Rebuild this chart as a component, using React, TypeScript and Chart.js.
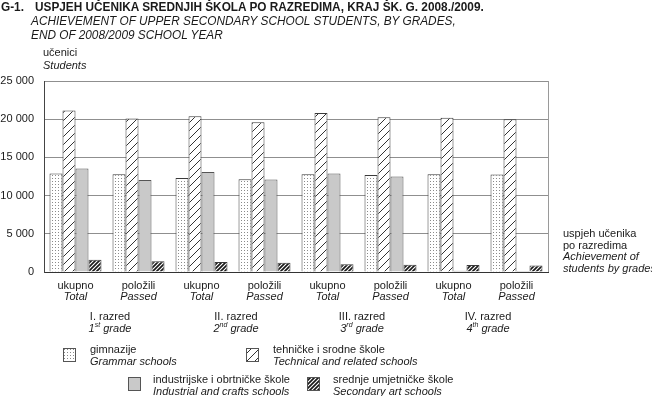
import React, { useEffect, useRef } from "react";
import { Chart, registerables } from "chart.js";
Chart.register(...registerables);

const topLabels = ["ukupno", "položili", "ukupno", "položili", "ukupno", "položili", "ukupno", "položili"];
const bottomLabels = ["Total", "Passed", "Total", "Passed", "Total", "Passed", "Total", "Passed"];
const gradeLabels = ["I. razred", "II. razred", "III. razred", "IV. razred"];
const gradeNums = ["1", "2", "3", "4"];
const gradeSups = ["st", "nd", "rd", "th"];

const grammar = [12900, 12800, 12300, 12150, 12800, 12700, 12800, 12750];
const technical = [21150, 20100, 20400, 19600, 20800, 20250, 20200, 20000];
const industrial = [13550, 12050, 13100, 12100, 12900, 12500, 150, 120];
const art = [1600, 1400, 1300, 1200, 1000, 950, 900, 850];

const yMax = 25000;
const yStep = 5000;

const FONT = "'Liberation Sans', Arial, sans-serif";

function makePattern(kind: string): CanvasPattern | string {
  const c = document.createElement("canvas");
  const ctx = c.getContext("2d")!;
  if (kind === "dots") {
    c.width = 3; c.height = 3;
    ctx.fillStyle = "#ffffff"; ctx.fillRect(0, 0, 3, 3);
    ctx.fillStyle = "#8a8a8a"; ctx.fillRect(1, 1, 1, 1);
  } else if (kind === "hatch") {
    c.width = 8; c.height = 8;
    ctx.fillStyle = "#ffffff"; ctx.fillRect(0, 0, 8, 8);
    ctx.strokeStyle = "#333333"; ctx.lineWidth = 1;
    ctx.beginPath();
    ctx.moveTo(-1, 9); ctx.lineTo(9, -1);
    ctx.moveTo(-1, 1); ctx.lineTo(1, -1);
    ctx.moveTo(7, 9); ctx.lineTo(9, 7);
    ctx.stroke();
  } else if (kind === "dense") {
    c.width = 4; c.height = 4;
    ctx.fillStyle = "#ffffff"; ctx.fillRect(0, 0, 4, 4);
    ctx.strokeStyle = "#1a1a1a"; ctx.lineWidth = 1.7;
    ctx.beginPath();
    ctx.moveTo(-1, 5); ctx.lineTo(5, -1);
    ctx.moveTo(-1, 1); ctx.lineTo(1, -1);
    ctx.moveTo(3, 5); ctx.lineTo(5, 3);
    ctx.stroke();
  }
  return ctx.createPattern(c, "repeat")!;
}

export default function App() {
  const ref = useRef<HTMLCanvasElement>(null);
  useEffect(() => {
    const canvas = ref.current!;
    const pDots = makePattern("dots");
    const pHatch = makePattern("hatch");
    const pDense = makePattern("dense");
    const gray = "#c9c9c9";

    const fills = [pDots, pHatch, gray, pDense];
    const legendItems = [
      { x: 63, y: 348, fill: pDots },
      { x: 246, y: 348, fill: pHatch },
      { x: 128, y: 377, fill: gray },
      { x: 307, y: 377, fill: pDense },
    ];

    const labelsPlugin = {
      id: "customLabels",
      afterDraw(chart: any) {
        const ctx = chart.ctx as CanvasRenderingContext2D;
        const xs = chart.scales.x;
        const area = chart.chartArea;
        ctx.save();
        ctx.strokeStyle = "#9a9a9a";
        ctx.lineWidth = 1;
        ctx.beginPath();
        ctx.moveTo(Math.round(area.right) + 0.5, area.top);
        ctx.lineTo(Math.round(area.right) + 0.5, area.bottom);
        ctx.stroke();

        ctx.fillStyle = "#1a1a1a";
        ctx.textAlign = "center";
        ctx.textBaseline = "middle";
        for (let i = 0; i < topLabels.length; i++) {
          const x = xs.getPixelForValue(i);
          ctx.font = `11px ${FONT}`;
          ctx.fillText(topLabels[i], x, 285.5);
          ctx.font = `italic 11px ${FONT}`;
          ctx.fillText(bottomLabels[i], x, 297);
        }
        for (let g = 0; g < gradeLabels.length; g++) {
          const x = (xs.getPixelForValue(2 * g) + xs.getPixelForValue(2 * g + 1)) / 2 + 3;
          ctx.font = `11px ${FONT}`;
          ctx.textAlign = "center";
          ctx.fillText(gradeLabels[g], x, 317);
          ctx.font = `italic 11px ${FONT}`;
          const num = gradeNums[g];
          const rest = " grade";
          const wNum = ctx.measureText(num).width;
          const wRest = ctx.measureText(rest).width;
          ctx.font = `italic 7px ${FONT}`;
          const wSup = ctx.measureText(gradeSups[g]).width;
          const total = wNum + wSup + wRest;
          let sx = x - total / 2;
          ctx.textAlign = "left";
          ctx.font = `italic 11px ${FONT}`;
          ctx.fillText(num, sx, 328.5);
          sx += wNum;
          ctx.font = `italic 7px ${FONT}`;
          ctx.fillText(gradeSups[g], sx, 325.5);
          sx += wSup;
          ctx.font = `italic 11px ${FONT}`;
          ctx.fillText(rest, sx, 328.5);
          ctx.textAlign = "center";
        }
        for (const it of legendItems) {
          ctx.fillStyle = it.fill as any;
          ctx.fillRect(it.x, it.y, 12, 13);
          ctx.strokeStyle = "#555555";
          ctx.lineWidth = 1;
          ctx.strokeRect(it.x + 0.5, it.y + 0.5, 12, 13);
        }
        ctx.restore();
      },
    };

    const mk = (label: string, data: number[], idx: number) => ({
      label,
      data,
      backgroundColor: fills[idx] as any,
      borderColor: idx === 2 ? "#555555" : "#3a3a3a",
      borderWidth: 1,
      barPercentage: 1,
      categoryPercentage: 0.825,
    });

    const chart = new Chart(canvas, {
      type: "bar",
      data: {
        labels: topLabels,
        datasets: [
          mk("gimnazije", grammar, 0),
          mk("tehničke i srodne škole", technical, 1),
          mk("industrijske i obrtničke škole", industrial, 2),
          mk("srednje umjetničke škole", art, 3),
        ],
      },
      options: {
        responsive: false,
        animation: false,
        events: [],
        layout: { padding: { top: 81, right: 104, bottom: 124, left: 0 } },
        plugins: { legend: { display: false }, tooltip: { enabled: false }, title: { display: false } },
        scales: {
          x: {
            ticks: { display: false },
            grid: { display: false, drawTicks: false },
            border: { display: true, color: "#333333", width: 1 },
            afterFit(scale: any) { scale.height = 0; },
          },
          y: {
            min: 0,
            max: yMax,
            ticks: {
              stepSize: yStep,
              padding: 10,
              color: "#1a1a1a",
              font: { family: FONT, size: 11 },
              callback: (v: any) => {
                const n = Number(v);
                if (n === 0) return "0";
                const s = String(n);
                return s.slice(0, s.length - 3) + " " + s.slice(-3);
              },
            },
            grid: { color: "#8f8f8f", lineWidth: 1, drawTicks: false },
            border: { display: true, color: "#444444", width: 1 },
            afterFit(scale: any) { scale.width = 44; },
          },
        },
      },
      plugins: [labelsPlugin],
    });
    return () => chart.destroy();
  }, []);

  const txt: React.CSSProperties = {
    position: "absolute",
    fontFamily: FONT,
    color: "#1a1a1a",
    whiteSpace: "nowrap",
    margin: 0,
  };
  const squeeze: React.CSSProperties = { transform: "scaleX(0.945)", transformOrigin: "left center" };

  return (
    <div style={{ position: "absolute", left: 0, top: 0, width: 652, height: 396, background: "#fff", overflow: "hidden" }}>
      <canvas ref={ref} width={652} height={396} style={{ position: "absolute", left: 0, top: 0, width: 652, height: 396 }} />
      <div style={{ ...txt, ...squeeze, left: 1, top: 0, fontSize: 12.5, lineHeight: "14px", fontWeight: "bold" }}>G-1.</div>
      <div style={{ ...txt, ...squeeze, left: 35, top: 0, fontSize: 12.5, lineHeight: "14px", fontWeight: "bold" }}>
        USPJEH UČENIKA SREDNJIH ŠKOLA PO RAZREDIMA, KRAJ ŠK. G. 2008./2009.
      </div>
      <div style={{ ...txt, ...squeeze, left: 31, top: 14, fontSize: 12.5, lineHeight: "14px", fontStyle: "italic" }}>
        <div>ACHIEVEMENT OF UPPER SECONDARY SCHOOL STUDENTS, BY GRADES,</div>
        <div>END OF 2008/2009 SCHOOL YEAR</div>
      </div>
      <div style={{ ...txt, left: 43, top: 46, fontSize: 11, lineHeight: "13px" }}>
        <div>učenici</div>
        <div style={{ fontStyle: "italic" }}>Students</div>
      </div>
      <div style={{ ...txt, left: 563, top: 228, fontSize: 11, lineHeight: "11.6px" }}>
        <div>uspjeh učenika</div>
        <div>po razredima</div>
        <div style={{ fontStyle: "italic" }}>Achievement of</div>
        <div style={{ fontStyle: "italic" }}>students by grades</div>
      </div>
      <div style={{ ...txt, left: 90, top: 343, fontSize: 11, lineHeight: "12px" }}>
        <div>gimnazije</div>
        <div style={{ fontStyle: "italic" }}>Grammar schools</div>
      </div>
      <div style={{ ...txt, left: 273, top: 343, fontSize: 11, lineHeight: "12px" }}>
        <div>tehničke i srodne škole</div>
        <div style={{ fontStyle: "italic" }}>Technical and related schools</div>
      </div>
      <div style={{ ...txt, left: 153, top: 373, fontSize: 11, lineHeight: "12px" }}>
        <div>industrijske i obrtničke škole</div>
        <div style={{ fontStyle: "italic" }}>Industrial and crafts schools</div>
      </div>
      <div style={{ ...txt, left: 333, top: 373, fontSize: 11, lineHeight: "12px" }}>
        <div>srednje umjetničke škole</div>
        <div style={{ fontStyle: "italic" }}>Secondary art schools</div>
      </div>
    </div>
  );
}
